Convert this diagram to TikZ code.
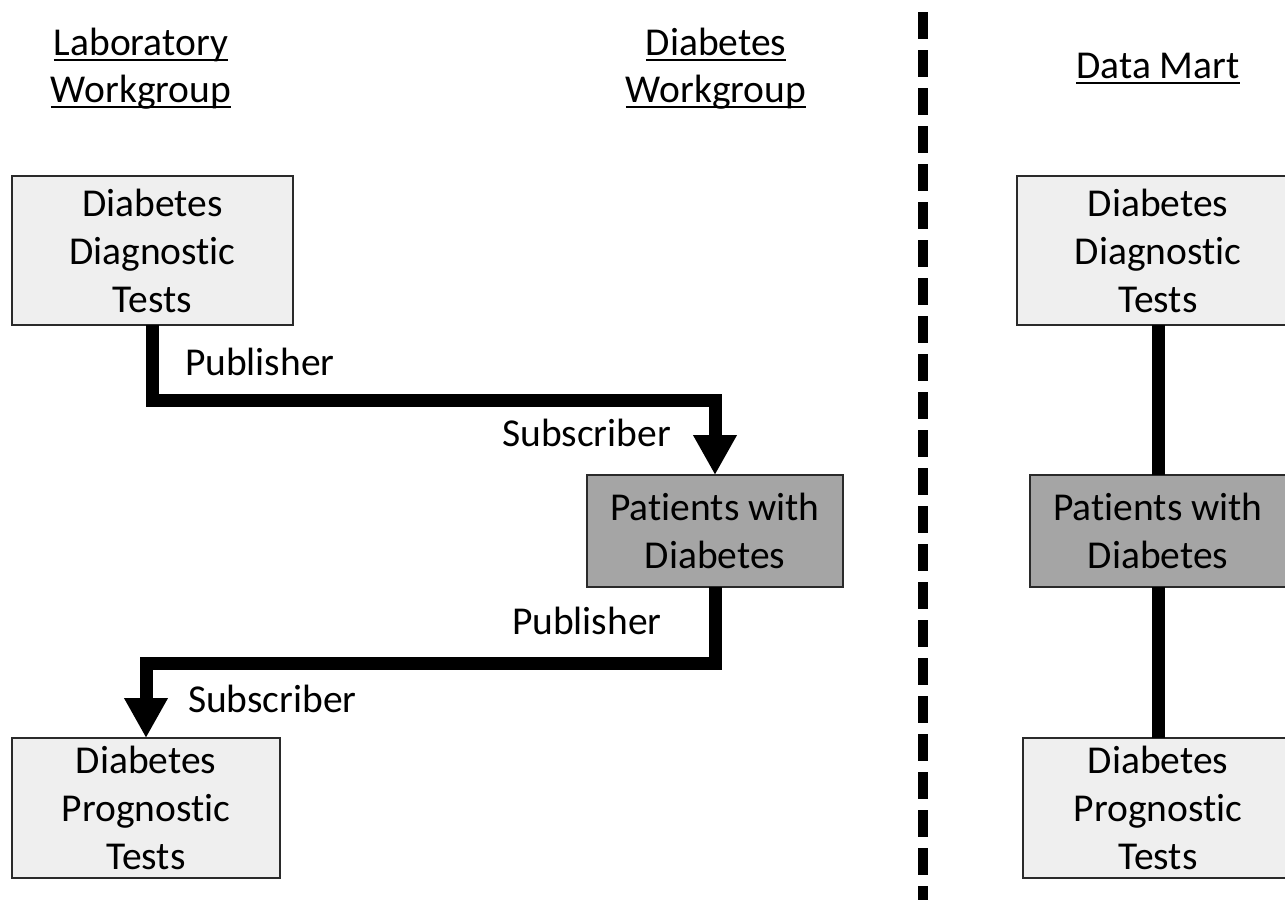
\documentclass[tikz,border=0pt]{standalone}
\usepackage{fontspec}
\setmainfont[Ligatures={NoCommon}]{Carlito}
\usetikzlibrary{arrows.meta}
\newcommand{\myul}[1]{\leavevmode\setbox0\hbox{#1}\rlap{\rule[-6pt]{\wd0}{2.5pt}}\box0}
\definecolor{lightbox}{HTML}{EFEFEF}
\definecolor{darkbox}{HTML}{A5A5A5}
\definecolor{boxline}{HTML}{2A2A2A}
\begin{document}
\begin{tikzpicture}[x=1pt,y=-1pt,
  every node/.style={font=\fontsize{39.5}{48}\selectfont, inner sep=0pt, outer sep=0pt},
  lbox/.style={draw=boxline, line width=2pt, fill=lightbox, align=center},
  dbox/.style={draw=boxline, line width=2pt, fill=darkbox, align=center},
  conn/.style={line width=13pt, line join=miter, draw=black},
  arr/.style={conn, -{Triangle[width=41pt,length=40pt]}},
  lbl/.style={anchor=base west},
  hdr/.style={anchor=base}
]
\useasboundingbox (0,0) rectangle (1285,900);

% headers
\node[hdr] (h1a) at (141,55) {\myul{Laboratory}};
\node[hdr] (h1b) at (141,102) {\myul{Workgroup}};
\node[hdr] (h2a) at (716,55) {\myul{Diabetes}};
\node[hdr] (h2b) at (716,102) {\myul{Workgroup}};
\node[hdr] (h3) at (1158,78) {\myul{Data Mart}};

% left boxes
\node[lbox, minimum width=281pt, minimum height=149pt] (b1) at (152.5,250.5) {Diabetes\\Diagnostic\\Tests};
\node[dbox, minimum width=256pt, minimum height=112pt] (b2) at (715,531) {Patients with\\Diabetes};
\node[lbox, minimum width=268pt, minimum height=140pt] (b3) at (146,808) {Diabetes\\Prognostic\\Tests};

% right boxes
\node[lbox, minimum width=282pt, minimum height=149pt] (r1) at (1158,250.5) {Diabetes\\Diagnostic\\Tests};
\node[dbox, minimum width=256pt, minimum height=112pt] (r2) at (1158,531) {Patients with\\Diabetes};
\node[lbox, minimum width=270pt, minimum height=140pt] (r3) at (1158,808) {Diabetes\\Prognostic\\Tests};

% connectors left
\coordinate (c1) at (715,400);
\coordinate (c2) at (146,663);
\draw[arr] (b1.south) |- (c1) -- (b2.north);
\draw[arr] (b2.south) |- (c2) -- (b3.north);

% connectors right
\draw[conn] (r1.south) -- (r2.north);
\draw[conn] (r2.south) -- (r3.north);

% labels
\node[lbl] (p1) at (185,375) {Publisher};
\node[anchor=base east] (s1) at (671,446) {Subscriber};
\node[lbl] (p2) at (512,634) {Publisher};
\node[lbl] (s2) at (188,712) {Subscriber};

% divider
\coordinate (d1) at (923,12);
\coordinate (d2) at (923,900);
\draw[line width=10pt, dash pattern=on 27pt off 11pt] (d1) -- (d2);
\end{tikzpicture}
\end{document}
